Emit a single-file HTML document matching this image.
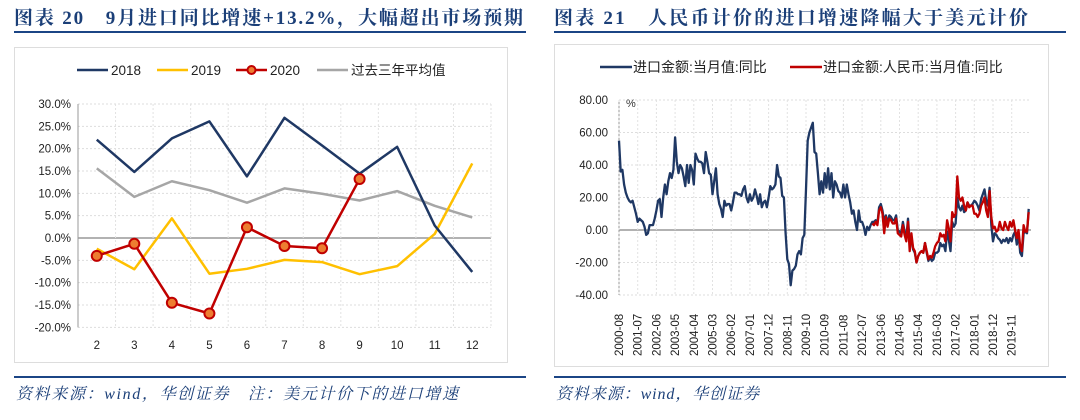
<!DOCTYPE html>
<html><head><meta charset="utf-8"><style>
body{margin:0;background:#fff;}
svg text{font-family:"Liberation Sans","Noto Sans CJK SC",sans-serif;}
.ttl{font-family:"Liberation Serif","Noto Serif CJK SC",serif;font-weight:bold;font-size:19px;fill:#1b3f78;letter-spacing:2px;}
.ft{font-family:"Liberation Serif","Noto Serif CJK SC",serif;font-style:italic;font-size:16px;fill:#1b3f78;letter-spacing:2px;}
.tk{font-size:11.5px;fill:#222;}
</style></head><body>
<svg id="s" width="1080" height="415" xmlns="http://www.w3.org/2000/svg">
<text class="ttl" x="14" y="24" textLength="511" lengthAdjust="spacing">图表 20　9月进口同比增速+13.2%，大幅超出市场预期</text>
<rect x="14" y="31" width="512" height="2" fill="#1b4585"/>
<text class="ttl" x="554" y="24" textLength="476" lengthAdjust="spacing">图表 21　人民币计价的进口增速降幅大于美元计价</text>
<rect x="554" y="31" width="512" height="2" fill="#1b4585"/>
<rect x="14.5" y="47.5" width="493" height="315" fill="#fff" stroke="#ddd"/>
<rect x="554.5" y="44.5" width="494" height="322" fill="#fff" stroke="#ddd"/>
<rect x="14" y="376" width="512" height="2" fill="#1b4585"/>
<rect x="554" y="376" width="512" height="2" fill="#1b4585"/>
<text class="ft" x="16" y="399" textLength="444" lengthAdjust="spacing">资料来源：wind，华创证券　注：美元计价下的进口增速</text>
<text class="ft" x="556" y="399" textLength="205" lengthAdjust="spacing">资料来源：wind，华创证券</text>
<g id="L"></g><g id="R"></g>
</svg>
<script>
// Left chart data
const months = [2,3,4,5,6,7,8,9,10,11,12];
const s2018 = [22.0,14.8,22.3,26.1,13.8,26.9,20.7,14.4,20.4,2.8,-7.6];
const s2019 = [-2.4,-7.0,4.4,-8.0,-6.9,-4.9,-5.4,-8.1,-6.3,0.9,16.7];
const s2020 = [-4.0,-1.3,-14.5,-16.9,2.4,-1.8,-2.3,13.2];
const sAvg = [15.6,9.2,12.7,10.7,7.9,11.1,9.9,8.4,10.5,7.2,4.6];
const leftTicks = [30,25,20,15,10,5,0,-5,-10,-15,-20];
// Right chart data (monthly from 2000-08)
const usdYoY = [55,36,37,28,23,
20,18,17,18,14,10,5,7,6,5,2,-3,
-2,3,3,3,7,12,18,19,8,20,28,22,
30,35,32,37,57,42,35,40,38,33,27,40,
29,40,37,28,47,44,42,42,41,35,48,42,
35,34,22,30,38,22,16,13,8,18,15,16,
16,12,17,23,23,22,22,21,25,27,20,17,
22,18,20,25,21,16,22,14,17,18,14,20,
27,25,26,28,40,33,32,21,20,-2,-18,-21,
-34,-25,-24,-22,-15,-13,-15,-5,-3,25,55,60,
63,66,48,47,35,22,30,23,35,26,38,25,
35,20,30,28,24,23,20,28,20,28,22,17,
10,12,5,0,12,5,5,2,-3,2,0,3,
5,5,6,4,14,16,12,5,9,4,9,8,
6,6,9,0,-1,-2,5,-1,-5,7,-7,-4,
-12,-14,-20,-16,-14,-13,-14,-8,-14,-19,-17,-19,
-18,-14,-14,-13,-8,-10,-9,-13,-1,-6,-13,5,
2,4,20,14,12,15,11,12,17,15,15,16,
18,17,15,12,19,22,25,18,15,26,3,-7,
-2,-3,-5,-6,-8,-6,-7,-5,-8,-5,-7,-3,
-1,-9,-2,-14,-16,-2,-1,-2,13];
const rmbStart = 149; // 2013-01 index
const rmbYoY = [4,3,5,3,12,14,10,-2,8,2,7,6,
4,4,7,-2,-3,-4,3,-3,-7,5,-13,-2,
-11,-13,-20,-16,-14,-13,-14,-8,-13,-18,-16,-17,
-14,-10,-8,-7,-2,-4,-3,-7,6,1,-7,11,
8,10,33,20,18,20,15,12,17,14,15,15,
10,10,8,10,15,17,20,12,8,24,8,1,
2,-1,0,5,1,0,5,2,0,5,2,6,
0,-5,0,-10,-13,3,-1,-1,11];
const rightTicks = [80,60,40,20,0,-20,-40];
const dateLabels = ["2000-08","2001-07","2002-06","2003-05","2004-04","2005-03","2006-02","2007-01","2007-12","2008-11","2009-10","2010-09","2011-08","2012-07","2013-06","2014-05","2015-04","2016-03","2017-02","2018-01","2018-12","2019-11"];

const NS="http://www.w3.org/2000/svg";
function mk(p,t,a){const e=document.createElementNS(NS,t);for(const k in a)e.setAttribute(k,a[k]);p.appendChild(e);return e;}
// ---- Left
const L=document.getElementById('L');
const lx0=78,lx1=491,ly=v=>238+(0-v)*(134/30);
const bw=(lx1-lx0)/months.length, lx=i=>lx0+bw*(i+0.5);
leftTicks.forEach(t=>{
 const g=mk(L,'line',{x1:lx0,x2:lx1,y1:ly(t),y2:ly(t),stroke:t===0?'#999':'#ddd','stroke-dasharray':t===0?'':'2,2','stroke-width':t===0?1.5:1});
 
 
 const tx=mk(L,'text',{x:lx0-7,y:ly(t)+4,'text-anchor':'end',class:'tk'});tx.textContent=t.toFixed(1)+'%';
 
 
});
for(let i=1;i<=months.length;i++){const g=mk(L,'line',{x1:lx0+bw*i,x2:lx0+bw*i,y1:ly(30),y2:ly(-20),stroke:'#e2e2e2','stroke-dasharray':'2,2'});
 
 }
mk(L,'line',{x1:lx0,x2:lx0,y1:ly(30),y2:ly(-20),stroke:'#999'});
months.forEach((m,i)=>{const t=mk(L,'text',{x:lx(i),y:349,'text-anchor':'middle',class:'tk','font-size':12.5});t.textContent=m;
 
 });
function lline(arr,col,w,name){const p=mk(L,'polyline',{points:arr.map((v,i)=>lx(i)+','+ly(v)).join(' '),fill:'none',stroke:col,'stroke-width':w,'stroke-linejoin':'round'});
 
 }
lline(sAvg,'#a6a6a6',2.5,'series-3yr-avg');
lline(s2019,'#ffc000',2.5,'series-2019');
lline(s2018,'#1f3864',2.5,'series-2018');
lline(s2020,'#c00000',2.5,'series-2020');
s2020.forEach((v,i)=>{const c=mk(L,'circle',{cx:lx(i),cy:ly(v),r:5,fill:'#ed7d31',stroke:'#c00000','stroke-width':2});
 
 });
[['2018','#1f3864',77],['2019','#ffc000',157],['2020','#c00000',236],['过去三年平均值','#a6a6a6',317]].forEach(([n,c,x],i)=>{
 const g=mk(L,'g',{});
 
 
 mk(g,'line',{x1:x,x2:x+31,y1:70,y2:70,stroke:c,'stroke-width':2.5});
 if(i===2)mk(g,'circle',{cx:x+15.5,cy:70,r:4,fill:'#ed7d31',stroke:'#c00000','stroke-width':2});
 const t=mk(g,'text',{x:x+34,y:75,'font-size':13.5,fill:'#222'});t.textContent=n;
});
// ---- Right
const R=document.getElementById('R');
const rx0=619,rstep=1.7,rx=i=>rx0+i*rstep,ry=v=>230-v*(32.5/20),rx1=1031;
rightTicks.forEach(t=>{
 const g=mk(R,'line',{x1:rx0,x2:rx1,y1:ry(t),y2:ry(t),stroke:t===0?'#999':'#ddd','stroke-dasharray':t===0?'':'2,2','stroke-width':t===0?1.5:1});
 
 
 const tx=mk(R,'text',{x:rx0-11,y:ry(t)+4,'text-anchor':'end',class:'tk'});tx.textContent=t.toFixed(2);
 
 
});
mk(R,'line',{x1:rx0,x2:rx0,y1:ry(80),y2:ry(-40),stroke:'#999'});
const pct=mk(R,'text',{x:626,y:107,'font-size':11,fill:'#333'});pct.textContent='%';


dateLabels.forEach((d,k)=>{const x=rx(k*11);
 const g=mk(R,'line',{x1:x,x2:x,y1:ry(80),y2:ry(-40),stroke:'#e2e2e2','stroke-dasharray':'2,2'});
 
 
 const t=mk(R,'text',{x:0,y:0,transform:`translate(${x+4},356) rotate(-90)`,class:'tk','font-size':11.5});t.textContent=d;
 
 });
const pb=mk(R,'polyline',{points:usdYoY.map((v,i)=>rx(i)+','+ry(v)).join(' '),fill:'none',stroke:'#1f3864','stroke-width':2.3,'stroke-linejoin':'round'});


const pr=mk(R,'polyline',{points:rmbYoY.map((v,i)=>rx(i+rmbStart)+','+ry(v)).join(' '),fill:'none',stroke:'#c00000','stroke-width':2.3,'stroke-linejoin':'round'});


[['进口金额:当月值:同比','#1f3864',600],['进口金额:人民币:当月值:同比','#c00000',790]].forEach(([n,c,x])=>{
 const g=mk(R,'g',{});
 
 
 mk(g,'line',{x1:x,x2:x+32,y1:67,y2:67,stroke:c,'stroke-width':2.5});
 const t=mk(g,'text',{x:x+33,y:72,'font-size':14,fill:'#222'});t.textContent=n;
});
</script>
</body></html>
